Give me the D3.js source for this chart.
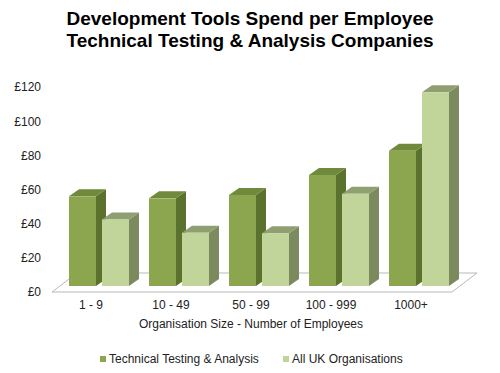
<!DOCTYPE html>
<html>
<head>
<meta charset="utf-8">
<script src="https://cdn.jsdelivr.net/npm/d3@7"></script>
<style>
  body { margin: 0; background: #fff; }
  svg { display: block; font-family: "Liberation Sans", Arial, sans-serif; }
</style>
</head>
<body>
<div id="chart"></div>
<script>
const categories = ['1 - 9', '10 - 49', '50 - 99', '100 - 999', '1000+'];
const seriesNames = ['Technical Testing & Analysis', 'All UK Organisations'];
const techValues = [52.5, 51.3, 53.3, 65, 79.2];
const ukValues = [39, 31.2, 30.9, 54, 113.4];
const yTicks = [0, 20, 40, 60, 80, 100, 120];

const width = 500, height = 373;
// colours per series: front, top, side
const palette = [
  { front: '#8ba64e', top: '#6f8a3a', side: '#5b722f' },
  { front: '#c1d59b', top: '#909f72', side: '#7c8a60' }
];

const floorY = 292;
const floorDepth = [25, -19];   // floor depth (dx, dy)
const barOffset = [8, -6];      // bar front sits a little behind floor front
const barDepth = [10, -7];

const svg = d3.select('#chart').append('svg')
  .attr('width', width)
  .attr('height', height);

const x = d3.scaleBand()
  .domain(categories)
  .range([52, 452])
  .padding(0);

const xSub = d3.scaleBand()
  .domain(seriesNames)
  .range([9, 69])
  .paddingInner(6 / 33);

const y = d3.scaleLinear()
  .domain([0, 120])
  .range([floorY, 87]);

// title
svg.append('g')
  .selectAll('text')
  .data(['Development Tools Spend per Employee', 'Technical Testing & Analysis Companies'])
  .join('text')
  .attr('x', 250)
  .attr('y', (d, i) => 25 + i * 22)
  .attr('text-anchor', 'middle')
  .attr('font-size', 19)
  .attr('font-weight', 'bold')
  .attr('fill', '#000')
  .text(d => d);

// floor
const [x0, x1] = x.range();
svg.append('polygon')
  .attr('points', [
    [x0, floorY], [x1, floorY],
    [x1 + floorDepth[0], floorY + floorDepth[1]],
    [x0 + floorDepth[0], floorY + floorDepth[1]]
  ].map(p => p.join(',')).join(' '))
  .attr('fill', '#fff')
  .attr('stroke', '#b8b8b8')
  .attr('stroke-width', 1);

// y axis labels (no line)
const yAxis = g => g
  .attr('transform', 'translate(41,0)')
  .call(d3.axisLeft(y).tickValues(yTicks).tickSize(0).tickPadding(0).tickFormat(d => '£' + d))
  .call(g => g.select('.domain').remove())
  .call(g => g.selectAll('text')
    .attr('font-size', 12)
    .attr('font-family', '"Liberation Sans", Arial, sans-serif')
    .attr('fill', '#222'));
svg.append('g').call(yAxis);

// bars
const rows = categories.map((c, i) => ({ cat: c, values: [techValues[i], ukValues[i]] }));
const bars = [];
rows.forEach(r => r.values.forEach((v, s) => bars.push({ cat: r.cat, s, v })));

const barG = svg.append('g');
bars.forEach(d => {
  const c = palette[d.s];
  const bx = x(d.cat) + xSub(seriesNames[d.s]) + barOffset[0];
  const bw = xSub.bandwidth();
  const base = floorY + barOffset[1];
  const top = y(d.v) + barOffset[1];
  const [dx, dy] = barDepth;
  const g = barG.append('g');
  // side
  g.append('polygon')
    .attr('points', [[bx + bw, base], [bx + bw + dx, base + dy], [bx + bw + dx, top + dy], [bx + bw, top]]
      .map(p => p.join(',')).join(' '))
    .attr('fill', c.side);
  // top
  g.append('polygon')
    .attr('points', [[bx, top], [bx + dx, top + dy], [bx + bw + dx, top + dy], [bx + bw, top]]
      .map(p => p.join(',')).join(' '))
    .attr('fill', c.top);
  // front
  g.append('rect')
    .attr('x', bx)
    .attr('y', top)
    .attr('width', bw)
    .attr('height', base - top)
    .attr('fill', c.front);
});

// x axis labels
const xAxis = g => g
  .attr('transform', `translate(0,${floorY + 8})`)
  .call(d3.axisBottom(x).tickSize(0).tickPadding(0))
  .call(g => g.select('.domain').remove())
  .call(g => g.selectAll('text')
    .attr('dy', '0.71em')
    .attr('dx', -1)
    .attr('font-size', 12)
    .attr('font-family', '"Liberation Sans", Arial, sans-serif')
    .attr('fill', '#222'));
svg.append('g').call(xAxis);

svg.append('text')
  .attr('x', 251)
  .attr('y', 328)
  .attr('text-anchor', 'middle')
  .attr('font-size', 12)
  .attr('fill', '#222')
  .text('Organisation Size - Number of Employees');

// legend
const legendX = [100, 283];
const legend = svg.append('g')
  .selectAll('g')
  .data(seriesNames)
  .join('g')
  .attr('transform', (d, i) => `translate(${legendX[i]},356)`);
legend.append('rect')
  .attr('width', 6)
  .attr('height', 6)
  .attr('fill', (d, i) => palette[i].front);
legend.append('text')
  .attr('x', 9)
  .attr('y', 7)
  .attr('font-size', 12)
  .attr('fill', '#222')
  .text(d => d);
</script>
</body>
</html>
